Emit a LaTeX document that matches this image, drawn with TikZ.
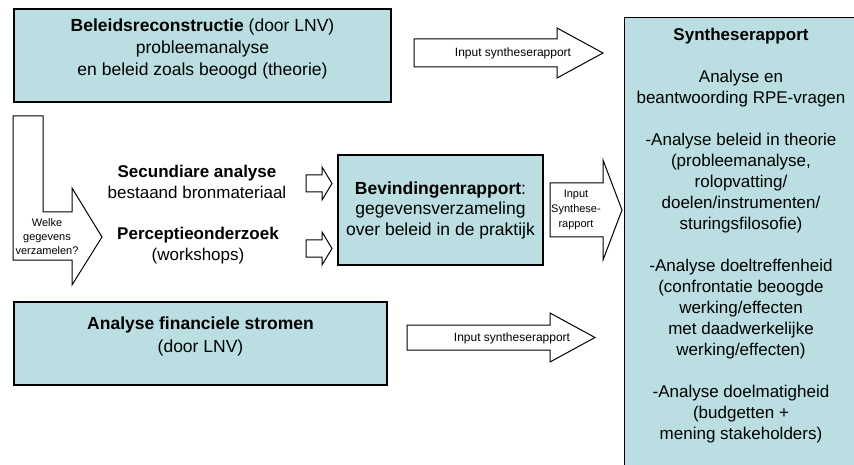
\documentclass[tikz,border=0pt]{standalone}
\usepackage{fontspec}
\setmainfont{Liberation Sans}
\definecolor{boxblue}{RGB}{186,222,226}
\tikzset{
  infobox/.style={draw=black, line width=1.3pt, fill=boxblue, align=center, inner sep=0pt},
  plaintext/.style={align=center, inner sep=0pt, font=\fontsize{17}{21}\selectfont},
  arrowtext/.style={align=center, inner sep=0pt, font=\fontsize{11}{15}\selectfont},
  blockarrow/.style={draw=black, line width=1pt, fill=white, line join=miter},
}
% block arrow: start, neck, tip, centre y, half body, half head
\newcommand\blockarr[6]{%
  \draw[blockarrow] (#1,{#4-#5}) -- (#2,{#4-#5}) -- (#2,{#4-#6}) -- (#3,#4)
    -- (#2,{#4+#6}) -- (#2,{#4+#5}) -- (#1,{#4+#5}) -- cycle;}
\begin{document}
\begin{tikzpicture}[x=1pt,y=-1pt]
  \useasboundingbox (0,0) rectangle (854,465);
  \clip (0,0) rectangle (854,465);

  % boxes
  \node[infobox, minimum width=377pt, minimum height=93pt, font=\fontsize{17.5}{22}\selectfont] (beleid) at (202.5,55.5)
    {\textbf{Beleidsreconstructie} (door LNV)\\ probleemanalyse\\ en beleid zoals beoogd (theorie)\\[-5pt]};
  \node[infobox, minimum width=205pt, minimum height=110pt, font=\fontsize{17.5}{20.5}\selectfont] (bevind) at (440.5,210)
    {\textbf{Bevindingenrapport}:\\ gegevensverzameling\\ over beleid in de praktijk};
  \node[infobox, minimum width=373pt, minimum height=83pt, font=\fontsize{17.5}{23}\selectfont] (financ) at (200.5,343.5)
    {\textbf{Analyse financiele stromen}\\ (door LNV)\\[-6pt]};
  \node[infobox, anchor=north west, minimum width=240pt, minimum height=460pt] (synth) at (624,17) {};
  \node[plaintext, anchor=north, font=\fontsize{17}{21}\selectfont] (synthtext) at (741,28)
    {\textbf{Syntheserapport}\\[21pt]
     Analyse en\\ beantwoording RPE-vragen\\[21pt]
     -Analyse beleid in theorie\\ (probleemanalyse,\\ rolopvatting/\\ doelen/instrumenten/\\ sturingsfilosofie)\\[21pt]
     -Analyse doeltreffenheid\\ (confrontatie beoogde\\ werking/effecten\\ met daadwerkelijke\\ werking/effecten)\\[21pt]
     -Analyse doelmatigheid\\ (budgetten +\\ mening stakeholders)};

  % middle column
  \node[plaintext] (secund) at (197,182) {\textbf{Secundiare analyse}\\ bestaand bronmateriaal};
  \node[plaintext] (percep) at (198,245.5) {\textbf{Perceptieonderzoek}\\ (workshops)};

  % bent arrow
  \draw[blockarrow] (13,116) -- (43,116) -- (43,212) -- (72,212) -- (72,188) -- (102,237)
    -- (72,285) -- (72,260) -- (13,260) -- cycle;
  \node[arrowtext, font=\fontsize{11}{14}\selectfont] (welke) at (47,237) {Welke\\ gegevens\\ verzamelen?};

  % block arrows
  \blockarr{414}{557}{603}{53}{14}{25}
  \node[arrowtext, font=\fontsize{12}{14}\selectfont] (input1) at (513,53) {Input syntheserapport};
  \blockarr{306}{322}{332}{183.5}{8.5}{16.5}
  \blockarr{306}{322}{332}{248.5}{8.5}{16.5}
  \blockarr{550}{603}{622}{210}{27}{50}
  \node[arrowtext] (input2) at (576,210) {Input\\ Synthese-\\ rapport};
  \blockarr{407}{550}{595}{337.5}{12.5}{24.5}
  \node[arrowtext, font=\fontsize{12}{14}\selectfont] (input3) at (512,338) {Input syntheserapport};
\end{tikzpicture}
\end{document}
